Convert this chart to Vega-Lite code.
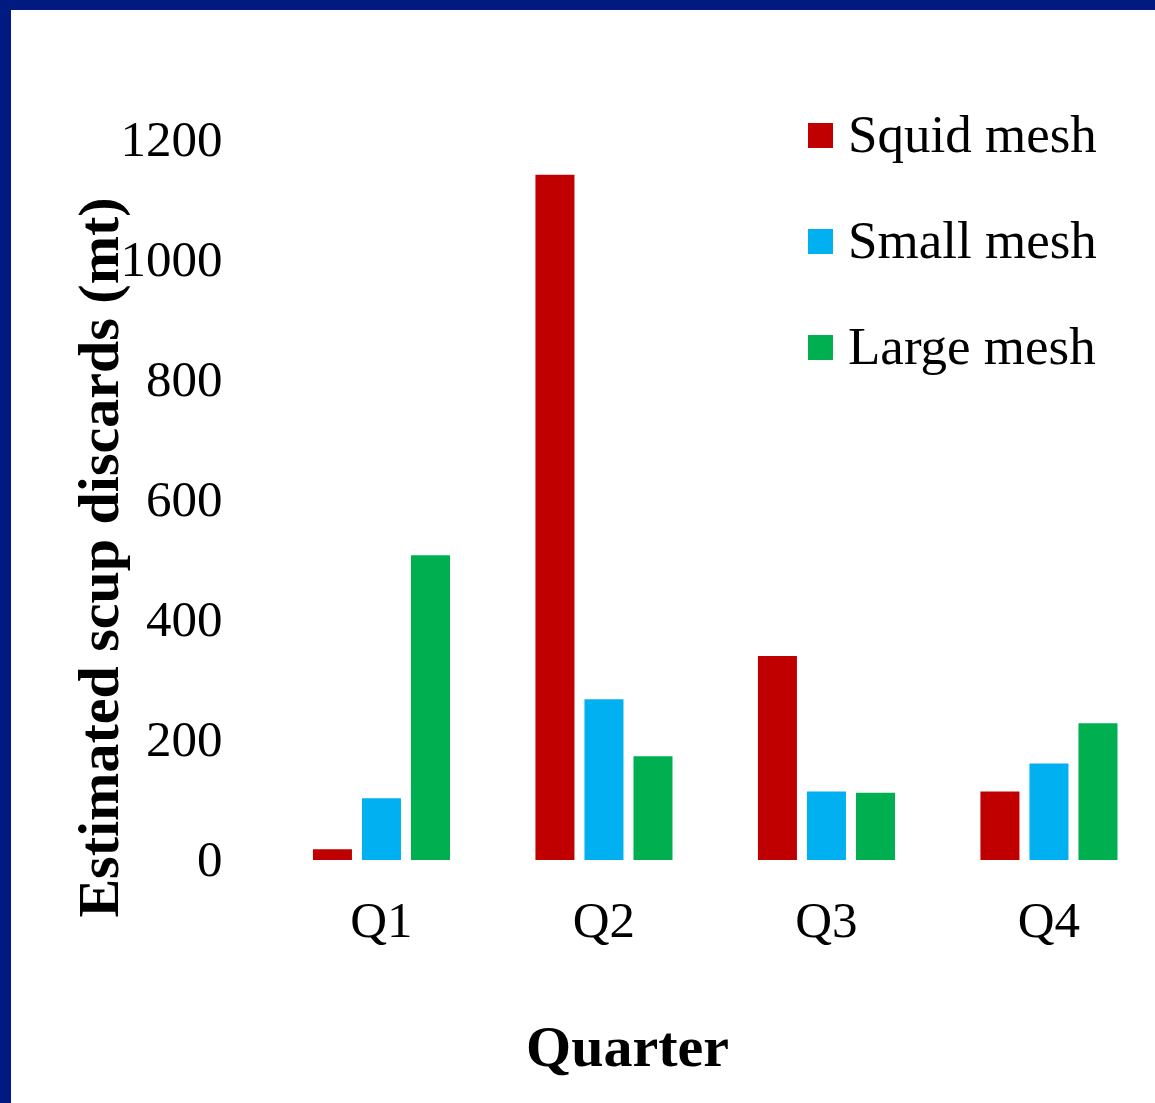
{
  "$schema": "https://vega.github.io/schema/vega-lite/v6.json",
  "width": 1144,
  "height": 1093,
  "autosize": {"type": "none"},
  "padding": {"left": 11, "top": 10, "right": 0, "bottom": 0},
  "background": "#011a82",
  "config": {
    "view": {"fill": "white", "stroke": null},
    "font": "Liberation Serif"
  },
  "data": {
    "values": [
      {"quarter": "Q1", "gear": "Squid mesh", "discards": 18},
      {"quarter": "Q1", "gear": "Small mesh", "discards": 103},
      {"quarter": "Q1", "gear": "Large mesh", "discards": 508},
      {"quarter": "Q2", "gear": "Squid mesh", "discards": 1142},
      {"quarter": "Q2", "gear": "Small mesh", "discards": 268},
      {"quarter": "Q2", "gear": "Large mesh", "discards": 173},
      {"quarter": "Q3", "gear": "Squid mesh", "discards": 340},
      {"quarter": "Q3", "gear": "Small mesh", "discards": 114},
      {"quarter": "Q3", "gear": "Large mesh", "discards": 112},
      {"quarter": "Q4", "gear": "Squid mesh", "discards": 114},
      {"quarter": "Q4", "gear": "Small mesh", "discards": 161},
      {"quarter": "Q4", "gear": "Large mesh", "discards": 228}
    ]
  },
  "mark": {"type": "bar"},
  "encoding": {
    "x": {
      "field": "quarter",
      "type": "nominal",
      "sort": ["Q1", "Q2", "Q3", "Q4"],
      "scale": {"paddingInner": 0.384, "paddingOuter": 0.7628, "align": 0.8895},
      "axis": {
        "title": "Quarter",
        "orient": "bottom",
        "offset": -243,
        "domain": false,
        "ticks": false,
        "grid": false,
        "labelAngle": 0,
        "labelFont": "Liberation Serif",
        "labelFontSize": 51,
        "labelColor": "black",
        "labelPadding": 36,
        "titleFont": "Liberation Serif",
        "titleFontSize": 58,
        "titleFontWeight": "bold",
        "titleColor": "black",
        "titleX": 616,
        "titleY": 188,
        "titleAlign": "center",
        "titleBaseline": "middle"
      }
    },
    "xOffset": {
      "field": "gear",
      "type": "nominal",
      "sort": ["Squid mesh", "Small mesh", "Large mesh"],
      "scale": {"paddingInner": 0.204, "paddingOuter": 0}
    },
    "y": {
      "field": "discards",
      "type": "quantitative",
      "scale": {"domain": [-405, 1416.67], "nice": false, "zero": false},
      "axis": {
        "title": "Estimated scup discards (mt)",
        "values": [0, 200, 400, 600, 800, 1000, 1200],
        "format": "d",
        "offset": -211,
        "domain": false,
        "ticks": false,
        "grid": false,
        "labelPadding": 0,
        "labelFont": "Liberation Serif",
        "labelFontSize": 51,
        "labelColor": "black",
        "titleFont": "Liberation Serif",
        "titleFontSize": 58,
        "titleFontWeight": "bold",
        "titleColor": "black",
        "titleX": -122,
        "titleY": 547,
        "titleAngle": -90,
        "titleAlign": "center",
        "titleBaseline": "middle"
      }
    },
    "color": {
      "field": "gear",
      "type": "nominal",
      "sort": ["Squid mesh", "Small mesh", "Large mesh"],
      "scale": {"domain": ["Squid mesh", "Small mesh", "Large mesh"], "range": ["#C00000", "#00B0F0", "#00B050"]},
      "legend": {
        "orient": "none",
        "legendX": 783,
        "legendY": 99,
        "title": null,
        "padding": 0,
        "symbolType": "square",
        "symbolSize": 625,
        "symbolStrokeWidth": 0,
        "symbolOpacity": 1,
        "labelFont": "Liberation Serif",
        "labelFontSize": 53,
        "labelColor": "black",
        "labelOffset": 1,
        "labelLimit": 0,
        "rowPadding": 52
      }
    }
  }
}
